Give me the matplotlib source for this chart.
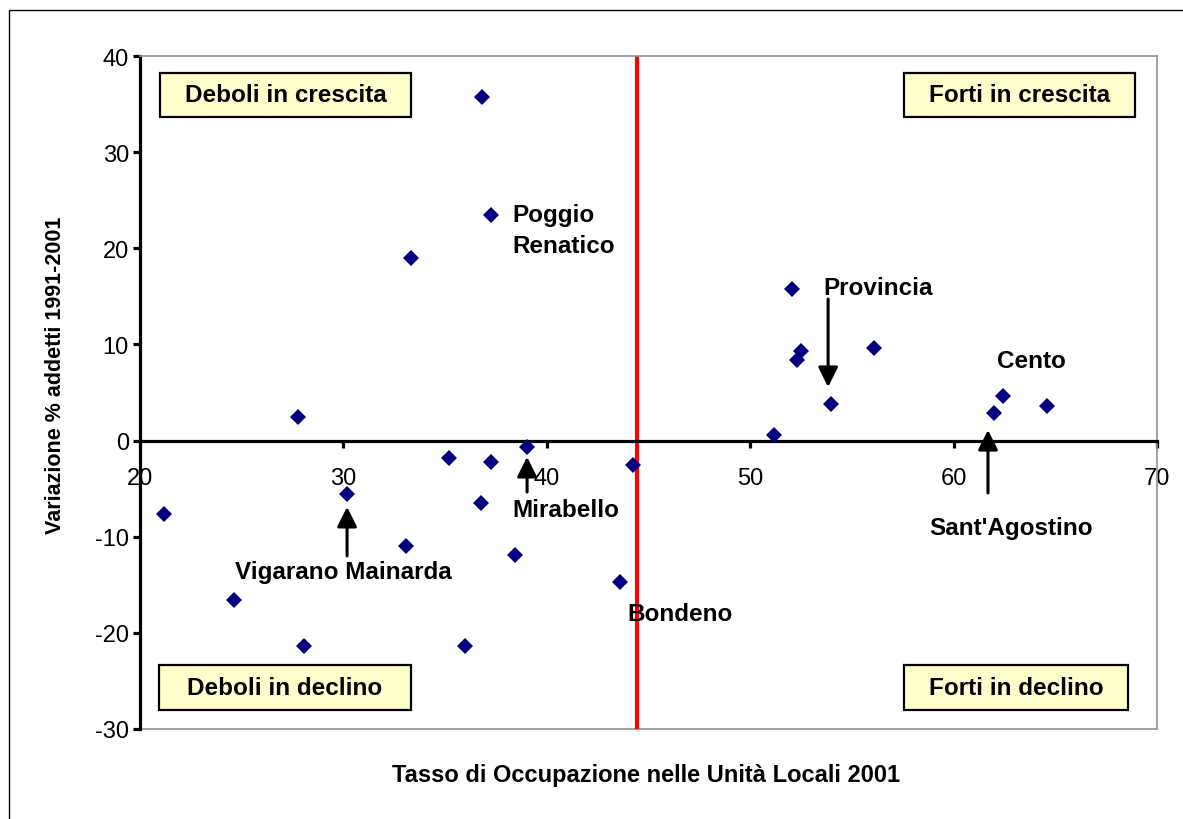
import matplotlib
matplotlib.use("Agg")
import matplotlib.pyplot as plt
from matplotlib.patches import Rectangle

plt.rcParams['font.family'] = ['Liberation Sans', 'DejaVu Sans']

# ---- data ----
tasso = [21.18, 24.62, 27.75, 28.08, 30.19, 33.08, 33.32, 35.19, 35.98, 36.80,
         36.76, 37.24, 37.26, 38.44, 39.04, 43.60, 44.25, 51.19, 52.06, 52.30,
         52.50, 53.97, 56.09, 61.99, 62.43, 64.58]
variazione = [-7.64, -16.6, 2.42, -21.4, -5.56, -10.97, 19.0, -1.81, -21.37, 35.77,
              -6.5, -2.27, 23.5, -11.9, -0.64, -14.7, -2.5, 0.58, 15.76, 8.38,
              9.32, 3.8, 9.63, 2.87, 4.63, 3.63]
soglia_x = 44.42

xticks = [20, 30, 40, 50, 60, 70]
yticks = [40, 30, 20, 10, 0, -10, -20, -30]

# label text, (x, y) left/center anchor
etichette = [
    ("Poggio\nRenatico", 38.29, 21.9),
    ("Provincia", 53.58, 15.97),
    ("Cento", 62.13, 8.28),
    ("Sant'Agostino", 58.79, -8.99),
    ("Mirabello", 38.29, -7.12),
    ("Vigarano Mainarda", 24.67, -13.57),
    ("Bondeno", 43.94, -17.94),
]
# arrows: (tail x, tail y, tip x, tip y)
frecce = [
    (30.18, -12.0, 30.18, -6.9),
    (39.03, -5.35, 39.03, -1.7),
    (61.69, -5.45, 61.69, 1.1),
    (53.83, 14.72, 53.83, 5.57),
]
# quadrant boxes (axes fraction): text, x, y, w, h
quadranti = [
    ("Deboli in crescita", 0.0197, 0.9094, 0.2468, 0.0654),
    ("Forti in crescita", 0.7512, 0.9094, 0.2271, 0.0654),
    ("Deboli in declino", 0.0187, 0.0282, 0.2478, 0.0669),
    ("Forti in declino", 0.7512, 0.0282, 0.2203, 0.0669),
]

W, H = 1183, 820
fig = plt.figure(figsize=(W / 100, H / 100), dpi=100)
fig.patch.set_facecolor('white')

# outer frame
fig.patches.append(Rectangle((9 / W, -0.05), 1.2, 1 - 11 / H + 0.05,
                             transform=fig.transFigure, fill=False,
                             edgecolor='black', linewidth=1.0))

ax = fig.add_axes([140 / W, 1 - 730 / H, 1017 / W, 673 / H])
ax.set_xlim(20, 70)
ax.set_ylim(-30, 40)

# spines
ax.spines['left'].set_linewidth(2.3)
ax.spines['left'].set_color('black')
ax.spines['bottom'].set_position(('data', 0))
ax.spines['bottom'].set_linewidth(2.3)
ax.spines['bottom'].set_color('black')
ax.spines['bottom'].set_zorder(3)
for s in ['top', 'right']:
    ax.spines[s].set_color('#909090')
    ax.spines[s].set_linewidth(1.2)
ax.axhline(-30, color='#909090', lw=1.2, clip_on=False, zorder=1)

ax.set_xticks(xticks)
ax.set_yticks(yticks)
ax.set_xticklabels([str(v) for v in xticks])
ax.set_yticklabels([str(v) for v in yticks])
ax.tick_params(axis='x', direction='out', length=5, width=2.3, pad=14,
               labelsize=17, color='black')
ax.tick_params(axis='y', direction='out', length=5, width=2.3, pad=3,
               labelsize=17, color='black')

# red divider
ax.axvline(soglia_x, color='#FF0000', lw=3, zorder=2)

# points
ax.plot(tasso, variazione, linestyle='none', marker='D', markersize=7.8,
        color='#000080', markeredgewidth=0, zorder=4)

# labels
for txt, x, y in etichette:
    ax.text(x, y, txt, ha='left', va='center', fontsize=17.5, fontweight='bold',
            linespacing=1.45, zorder=5)

for x0, y0, x1, y1 in frecce:
    ax.annotate('', xy=(x1, y1), xytext=(x0, y0),
                arrowprops=dict(arrowstyle='-|>', color='black', lw=2.2,
                                mutation_scale=30, shrinkA=0, shrinkB=0),
                zorder=5)

for txt, x, y, w, h in quadranti:
    ax.add_patch(Rectangle((x, y), w, h, transform=ax.transAxes,
                           facecolor='#FFFFCC', edgecolor='black', lw=1.6,
                           zorder=6))
    ax.text(x + w / 2, y + h / 2, txt, transform=ax.transAxes, ha='center',
            va='center', fontsize=17.5, fontweight='bold', zorder=7)

fig.text(56 / W, 1 - 375.5 / H, "Variazione % addetti 1991-2001", rotation=90,
         ha='center', va='center', fontsize=15.5, fontweight='bold')
fig.text(646.5 / W, 1 - 775.5 / H, "Tasso di Occupazione nelle Unità Locali 2001",
         ha='center', va='center', fontsize=17, fontweight='bold')

fig.savefig('out.png', dpi=100, facecolor='white')
